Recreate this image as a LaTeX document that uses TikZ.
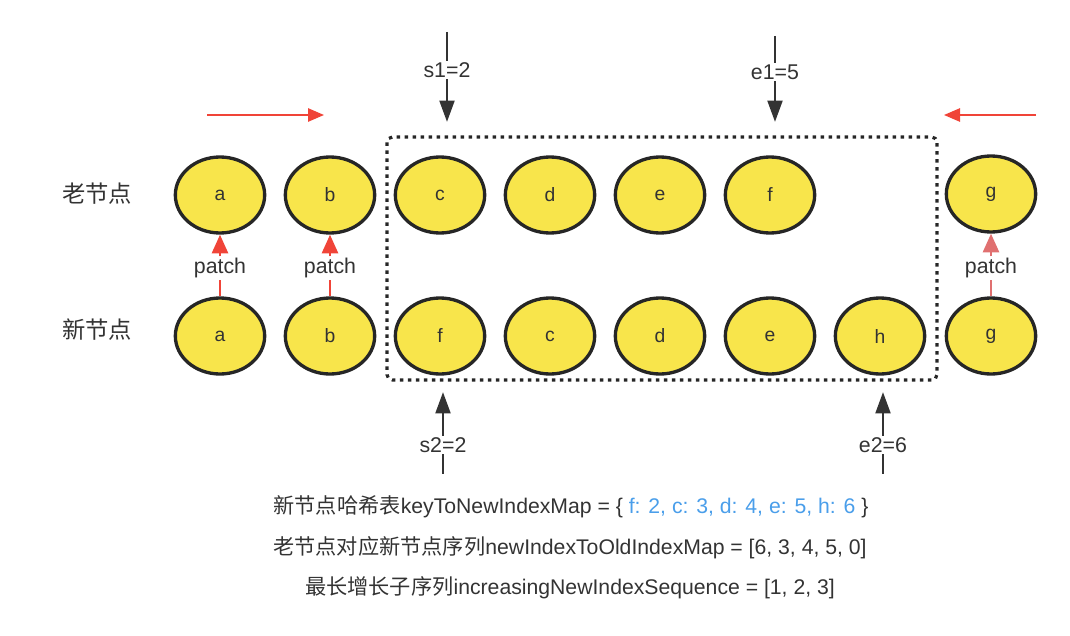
\documentclass[tikz,border=0pt]{standalone}
\usepackage{fontspec}
\setmainfont{Liberation Sans}
\newfontfamily\cjk{Noto Sans CJK SC}
\usetikzlibrary{arrows.meta,shapes.geometric}
\definecolor{nodeyellow}{HTML}{F8E54B}
\definecolor{txtgray}{HTML}{333333}
\definecolor{arrred}{HTML}{F04438}
\definecolor{arrpink}{HTML}{E07070}
\definecolor{numblue}{HTML}{4A9EEA}
\begin{document}
\begin{tikzpicture}[x=0.75pt,y=-0.75pt,
  vnode/.style={ellipse,draw=black!85,line width=2.5pt,fill=nodeyellow,minimum width=67pt,minimum height=57pt,inner sep=0pt,font=\fontsize{14.5}{17}\selectfont,text=txtgray},
  lbl/.style={font=\fontsize{16}{19}\selectfont,text=txtgray,inner sep=1pt},
  cjklbl/.style={font=\cjk\fontsize{17.5}{21}\selectfont,text=txtgray,inner sep=1pt},
  patchlbl/.style={font=\fontsize{16}{19}\selectfont,text=txtgray,inner sep=1pt},
  ptr/.style={draw=black!80,line width=2.2pt},
  ptrtip/.style={ptr,-{Triangle[width=11pt,length=16pt]}},
  redarr/.style={draw=arrred,line width=1.3pt,-{Triangle[width=10pt,length=12pt]}},
  patchline/.style={draw=arrred,line width=2pt},
  patchtip/.style={patchline,-{Triangle[width=12pt,length=14pt]}},
  bottomtxt/.style={font=\fontsize{15.9}{19}\selectfont,text=txtgray,inner sep=0pt}]
\useasboundingbox (0,0) rectangle (1070,635);
% labels
\node[cjklbl] (oldlbl) at (97,194) {老节点};
\node[cjklbl] (newlbl) at (97,330) {新节点};
% old row
\node[vnode] (oa) at (220,195) {a};
\node[vnode] (ob) at (330,195) {b};
\node[vnode] (oc) at (440,195) {c};
\node[vnode] (od) at (550,195) {d};
\node[vnode] (oe) at (660,195) {e};
\node[vnode] (of) at (770,195) {f};
\node[vnode] (og) at (991,194) {g};
% new row
\node[vnode] (na) at (220,336) {a};
\node[vnode] (nb) at (330,336) {b};
\node[vnode] (nf) at (440,336) {f};
\node[vnode] (nc) at (550,336) {c};
\node[vnode] (nd) at (660,336) {d};
\node[vnode] (ne) at (770,336) {e};
\node[vnode] (nh) at (880,336) {h};
\node[vnode] (ng) at (991,336) {g};
% patches
\node[patchlbl] (pa) at (220,268) {patch};
\node[patchlbl] (pb) at (330,268) {patch};
\node[patchlbl] (pg) at (991,268) {patch};
\draw[patchline] (na.north) -- (pa.south);
\draw[patchtip] (pa.north) -- (oa.south);
\draw[patchline] (nb.north) -- (pb.south);
\draw[patchtip] (pb.north) -- (ob.south);
\draw[patchline,draw=arrpink] (ng.north) -- (pg.south);
\draw[patchtip,draw=arrpink] (pg.north) -- (og.south);
% dotted box
\draw[draw=black!85,line width=2.4pt,dash pattern=on 2.6pt off 3.4pt,rounded corners=4pt] (387,137) rectangle (937,380);
% red direction arrows
\coordinate (rl1) at (207,115);
\coordinate (rl2) at (324,115);
\coordinate (rr1) at (1036,115);
\coordinate (rr2) at (944,115);
\draw[redarr] (rl1) -- (rl2);
\draw[redarr] (rr1) -- (rr2);
% pointers top
\coordinate (s1top) at (447,32);
\node[lbl] (s1) at (447,70) {s1=2};
\coordinate (s1tip) at (447,122);
\draw[ptr] (s1top) -- (s1.north);
\draw[ptrtip] (s1.south) -- (s1tip);
\coordinate (e1top) at (775,36);
\node[lbl] (e1) at (775,72) {e1=5};
\coordinate (e1tip) at (775,122);
\draw[ptr] (e1top) -- (e1.north);
\draw[ptrtip] (e1.south) -- (e1tip);
% pointers bottom
\coordinate (s2tip) at (443,392);
\node[lbl] (s2) at (443,445) {s2=2};
\coordinate (s2bot) at (443,474);
\draw[ptrtip] (s2.north) -- (s2tip);
\draw[ptr] (s2.south) -- (s2bot);
\coordinate (e2tip) at (883,392);
\node[lbl] (e2) at (883,445) {e2=6};
\coordinate (e2bot) at (883,474);
\draw[ptrtip] (e2.north) -- (e2tip);
\draw[ptr] (e2.south) -- (e2bot);
% bottom text
\node[bottomtxt] (t1) at (571,507) {{\cjk 新节点哈希表}keyToNewIndexMap = \{ \textcolor{numblue}{f: 2, c: 3, d: 4, e: 5, h: 6} \}};
\node[bottomtxt] (t2) at (570,548) {{\cjk 老节点对应新节点序列}newIndexToOldIndexMap = [6, 3, 4, 5, 0]};
\node[bottomtxt] (t3) at (570,588) {{\cjk 最长增长子序列}increasingNewIndexSequence = [1, 2, 3]};
\end{tikzpicture}
\end{document}
